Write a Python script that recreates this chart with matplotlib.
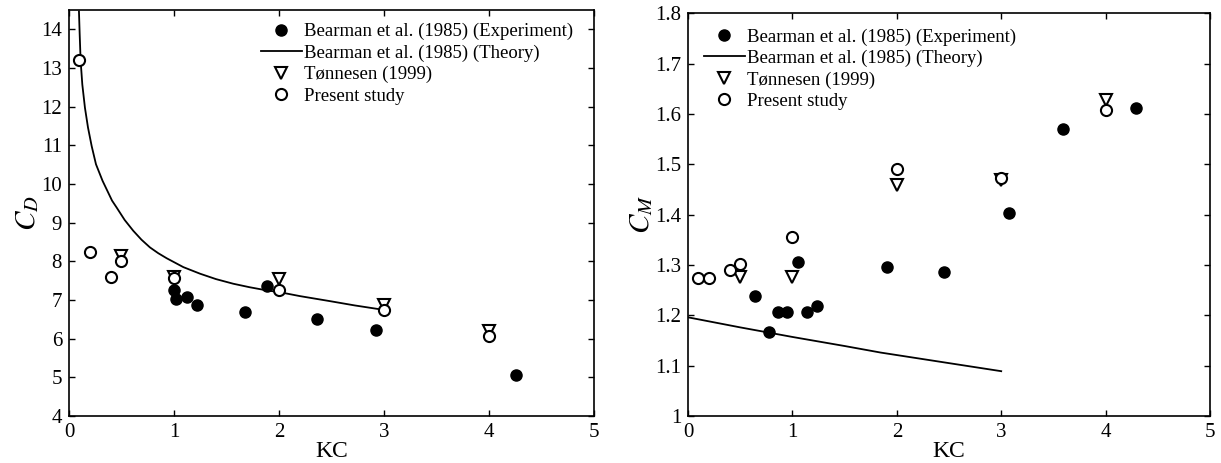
import numpy as np
import matplotlib
matplotlib.use("Agg")
import matplotlib.pyplot as plt

plt.rcParams['font.family'] = ['Liberation Serif', 'DejaVu Serif']
plt.rcParams['mathtext.fontset'] = 'stix'

# --- Drag coefficient panel ---
cd_exp_kc = [1.00, 1.02, 1.12, 1.22, 1.68, 1.89, 2.36, 2.92, 4.26]
cd_exp = [7.27, 7.02, 7.09, 6.86, 6.70, 7.37, 6.52, 6.22, 5.06]

cd_theory_kc = [0.095, 0.102, 0.111, 0.127, 0.152, 0.181, 0.216, 0.257, 0.32,
                0.41, 0.454, 0.53, 0.612, 0.69, 0.771, 0.85, 0.93, 1.089,
                1.248, 1.40, 1.565, 1.72, 1.88, 2.01, 2.2, 2.486, 2.72, 2.96, 3.0]
cd_theory = [14.46, 13.86, 13.18, 12.57, 11.97, 11.46, 10.98, 10.51, 10.08,
             9.57, 9.39, 9.07, 8.79, 8.56, 8.36, 8.21, 8.08, 7.85,
             7.68, 7.54, 7.42, 7.33, 7.25, 7.20, 7.10, 6.97, 6.86, 6.76, 6.74]

cd_ton_kc = [0.5, 1.0, 2.0, 3.0, 4.0]
cd_ton = [8.13, 7.60, 7.53, 6.88, 6.20]

cd_pres_kc = [0.1, 0.2, 0.4, 0.5, 1.0, 2.0, 3.0, 4.0]
cd_pres = [13.2, 8.25, 7.60, 8.00, 7.58, 7.25, 6.74, 6.06]

# --- Inertia coefficient panel ---
cm_exp_kc = [0.645, 0.78, 0.86, 0.95, 1.05, 1.14, 1.24, 1.91, 2.455, 3.07, 3.59, 4.29]
cm_exp = [1.239, 1.166, 1.207, 1.207, 1.306, 1.207, 1.219, 1.296, 1.286, 1.403, 1.570, 1.612]

cm_theory_kc = [0.0, 0.5, 0.79, 1.0, 1.5, 1.845, 2.5, 3.0]
cm_theory = [1.196, 1.176, 1.165, 1.157, 1.139, 1.126, 1.105, 1.089]

cm_ton_kc = [0.5, 1.0, 2.0, 3.0, 4.0]
cm_ton = [1.277, 1.277, 1.458, 1.468, 1.628]

cm_pres_kc = [0.1, 0.2, 0.4, 0.5, 1.0, 2.0, 3.0, 4.0]
cm_pres = [1.275, 1.275, 1.290, 1.302, 1.355, 1.491, 1.473, 1.608]

labels = ["Bearman et al. (1985) (Experiment)", "Bearman et al. (1985) (Theory)",
          "Tønnesen (1999)", "Present study"]

fig = plt.figure(figsize=(12.21, 4.63), dpi=100)
ax1 = fig.add_axes([0.0565, 0.1015, 0.430, 0.877])
ax2 = fig.add_axes([0.5635, 0.1015, 0.4275, 0.870])


def draw(ax, exp_kc, exp_v, th_kc, th_v, ton_kc, ton_v, pr_kc, pr_v):
    h1, = ax.plot(exp_kc, exp_v, 'o', color='black', markersize=8, linestyle='none')
    h2, = ax.plot(th_kc, th_v, '-', color='black', linewidth=1.3)
    h3, = ax.plot(ton_kc, ton_v, 'v', markerfacecolor='white', markeredgecolor='black',
                  markeredgewidth=1.5, markersize=9, linestyle='none')
    h4, = ax.plot(pr_kc, pr_v, 'o', markerfacecolor='white', markeredgecolor='black',
                  markeredgewidth=1.5, markersize=8, linestyle='none')
    ax.tick_params(direction='in', top=True, right=True, length=4, width=1,
                   labelsize=15, pad=5)
    for s in ax.spines.values():
        s.set_linewidth(1.2)
    ax.set_xlim(0, 5)
    ax.set_xticks(range(6))
    ax.set_xlabel("KC", fontsize=17, labelpad=-1)
    return [h1, h2, h3, h4]


hs = draw(ax1, cd_exp_kc, cd_exp, cd_theory_kc, cd_theory, cd_ton_kc, cd_ton, cd_pres_kc, cd_pres)
ax1.set_ylim(4, 14.5)
ax1.set_yticks(range(4, 15))
ax1.set_ylabel(r"$C_D$", fontsize=21, labelpad=0)
ax1.legend(hs, labels, loc='upper right', bbox_to_anchor=(0.985, 1.0), frameon=False,
           fontsize=13.5, handlelength=2.2, handletextpad=0.1, labelspacing=0.22,
           borderaxespad=0.3)

hs = draw(ax2, cm_exp_kc, cm_exp, cm_theory_kc, cm_theory, cm_ton_kc, cm_ton, cm_pres_kc, cm_pres)
ax2.set_ylim(1, 1.8)
cm_ticks = [1, 1.1, 1.2, 1.3, 1.4, 1.5, 1.6, 1.7, 1.8]
ax2.set_yticks(cm_ticks)
ax2.set_yticklabels(["1", "1.1", "1.2", "1.3", "1.4", "1.5", "1.6", "1.7", "1.8"])
ax2.set_ylabel(r"$C_M$", fontsize=21, labelpad=0)
ax2.legend(hs, labels, loc='upper left', bbox_to_anchor=(0.005, 0.995), frameon=False,
           fontsize=13.5, handlelength=2.2, handletextpad=0.1, labelspacing=0.22,
           borderaxespad=0.3)

fig.savefig("out.png", dpi=100)
